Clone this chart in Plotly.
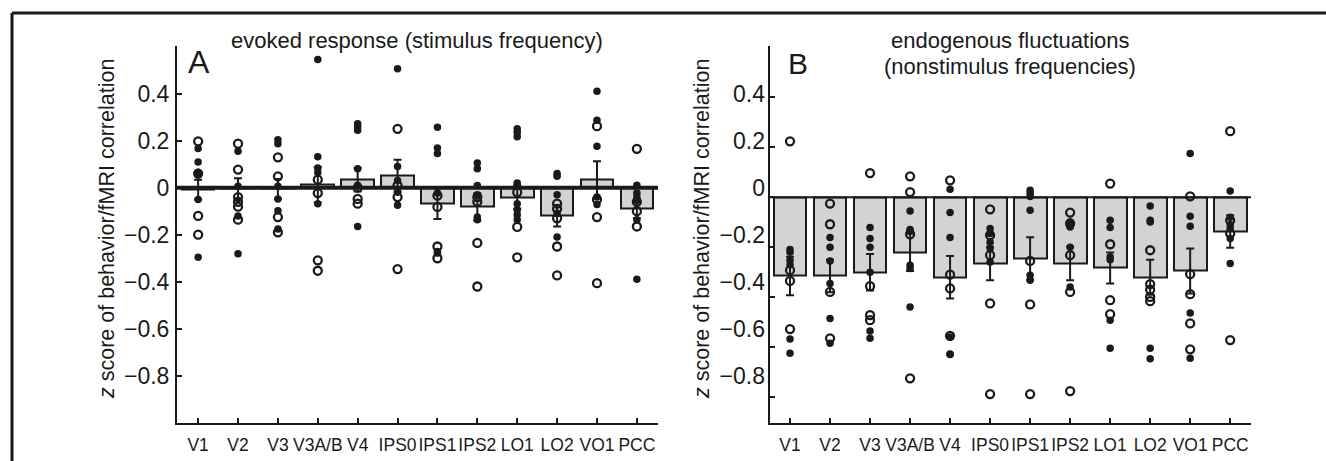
import plotly.graph_objects as go

W, H = 1326, 461

regions = ["V1", "V2", "V3", "V3A/B", "V4", "IPS0", "IPS1", "IPS2", "LO1", "LO2", "VO1", "PCC"]
y_ticks = [-0.8, -0.6, -0.4, -0.2, 0, 0.2, 0.4]
y_ticktext = ["\u22120.8", "\u22120.6", "\u22120.4", "\u22120.2", "0", "0.2", "0.4"]

# panel A: evoked response (stimulus frequency)
evoked_mean = [-0.008, -0.005, -0.005, 0.012, 0.034, 0.051, -0.068, -0.082, -0.04, -0.12, 0.035, -0.09]
evoked_sem = [0.042, 0.045, 0.042, 0.075, 0.05, 0.068, 0.065, 0.058, 0.05, 0.045, 0.077, 0.04]
evoked_filled = [
    [0.166, 0.109, 0.065, 0.055, -0.05, -0.296],
    [0.155, 0.006, -0.12, -0.281],
    [0.204, 0.187, 0.006, -0.048, -0.098, -0.176],
    [0.545, 0.131, 0.084, 0.064, -0.068],
    [0.272, 0.26, 0.244, 0.08, 0.01, -0.165],
    [0.505, 0.09, 0.03, -0.02, -0.075],
    [0.257, 0.169, 0.145, -0.023, -0.271, -0.278],
    [0.105, 0.08, 0.009, -0.03, -0.125, -0.136],
    [0.25, 0.235, 0.216, 0.02, -0.068, -0.094, -0.115, -0.136],
    [0.06, 0.048, -0.03, -0.11, -0.21],
    [0.41, 0.286, 0.176, -0.04, -0.072],
    [0.01, -0.023, -0.04, -0.055, -0.136, -0.389],
]
evoked_open = [
    [0.197, 0.06, -0.12, -0.2],
    [0.187, 0.077, -0.04, -0.06, -0.081, -0.136],
    [0.129, 0.048, -0.125, -0.19],
    [0.034, -0.023, -0.309, -0.353],
    [0.0, -0.048, -0.068],
    [0.25, 0.01, -0.04, -0.346],
    [-0.034, -0.082, -0.25, -0.3],
    [-0.04, -0.06, -0.235, -0.42],
    [-0.02, -0.167, -0.296],
    [-0.068, -0.09, -0.13, -0.25, -0.373],
    [0.261, -0.05, -0.125, -0.406],
    [0.165, -0.06, -0.1, -0.165],
]

# panel B: endogenous fluctuations (nonstimulus frequencies)
endo_mean = [-0.315, -0.315, -0.3, -0.22, -0.32, -0.265, -0.245, -0.265, -0.283, -0.32, -0.295, -0.137]
endo_sem = [0.077, 0.065, 0.073, 0.075, 0.085, 0.067, 0.085, 0.067, 0.062, 0.07, 0.09, 0.065]
endo_filled = [
    [-0.209, -0.22, -0.252, -0.27, -0.568, -0.625],
    [-0.161, -0.2, -0.255, -0.345, -0.485, -0.585],
    [-0.121, -0.165, -0.2, -0.3, -0.536, -0.565],
    [-0.055, -0.129, -0.135, -0.272, -0.285, -0.439],
    [0.032, -0.061, -0.161, -0.56, -0.628, -0.63],
    [-0.125, -0.145, -0.18, -0.205, -0.259],
    [0.028, 0.015, 0.003, -0.052, -0.312, -0.332],
    [-0.099, -0.116, -0.119, -0.2, -0.359],
    [-0.092, -0.121, -0.239, -0.25, -0.492, -0.605],
    [-0.035, -0.092, -0.099, -0.605, -0.647],
    [0.175, -0.076, -0.116, -0.463, -0.645],
    [0.025, -0.08, -0.11, -0.125, -0.165, -0.265],
]
endo_open = [
    [0.224, -0.292, -0.335, -0.528],
    [-0.025, -0.108, -0.379, -0.565],
    [0.097, -0.356, -0.472, -0.492],
    [0.084, 0.021, -0.148, -0.725],
    [0.068, -0.31, -0.365, -0.555],
    [-0.048, -0.152, -0.232, -0.425, -0.788],
    [-0.255, -0.429, -0.788],
    [-0.061, -0.105, -0.232, -0.379, -0.776],
    [0.055, -0.188, -0.412, -0.468],
    [-0.212, -0.348, -0.37, -0.399, -0.416],
    [0.004, -0.308, -0.388, -0.505, -0.609],
    [0.265, -0.092, -0.145, -0.572],
]

BAR_GRAY = "#d3d3d3"
INK = "#1a1a1a"
FONT = "Arial, Liberation Sans, sans-serif"


def flatten(groups):
    xs, ys = [], []
    for i, vals in enumerate(groups):
        for v in vals:
            xs.append(i)
            ys.append(v)
    return xs, ys


fig = go.Figure()

panels = [
    ("x", "y", evoked_mean, evoked_sem, evoked_filled, evoked_open),
    ("x2", "y2", endo_mean, endo_sem, endo_filled, endo_open),
]
for xa, ya, mean, sem, filled, hollow in panels:
    fig.add_trace(go.Bar(
        x=list(range(len(regions))), y=mean, width=0.82,
        marker=dict(color=BAR_GRAY, line=dict(color=INK, width=2)),
        error_y=dict(type="data", array=sem, color=INK, thickness=2, width=4),
        xaxis=xa, yaxis=ya, showlegend=False,
    ))
    ox, oy = flatten(hollow)
    fig.add_trace(go.Scatter(
        x=ox, y=oy, mode="markers", xaxis=xa, yaxis=ya, showlegend=False,
        marker=dict(symbol="circle-open", size=8, color=INK, line=dict(width=2.3, color=INK)),
    ))
    fx, fy = flatten(filled)
    fig.add_trace(go.Scatter(
        x=fx, y=fy, mode="markers", xaxis=xa, yaxis=ya, showlegend=False,
        marker=dict(symbol="circle", size=7.5, color=INK),
    ))

# dummy trace so the label-only axis of panel B gets drawn
fig.add_trace(go.Scatter(x=[None], y=[None], xaxis="x2", yaxis="y3", showlegend=False, hoverinfo="skip"))

ydom = [(H - 423) / H, (H - 45.5) / H]
xcommon = dict(
    tickmode="array", tickvals=list(range(len(regions))), ticktext=regions,
    ticks="inside", ticklen=5, tickwidth=1.5, tickcolor=INK, tickangle=0,
    showline=True, linecolor=INK, linewidth=2, showgrid=False, zeroline=False,
    tickfont=dict(size=17.5, color=INK, family=FONT), ticklabelstandoff=5,
    automargin=False,
)
ycommon = dict(
    tickmode="array", tickvals=y_ticks, ticktext=y_ticktext,
    ticks="inside", ticklen=5, tickwidth=1.5, tickcolor=INK,
    showline=True, linecolor=INK, linewidth=2, showgrid=False, zeroline=False,
    tickfont=dict(size=23, color=INK, family=FONT), ticklabelstandoff=1,
    domain=ydom, automargin=False,
)

fig.update_layout(
    width=W, height=H,
    margin=dict(l=0, r=0, t=0, b=0),
    paper_bgcolor="white", plot_bgcolor="white",
    font=dict(family=FONT, color=INK),
    bargap=0,
    xaxis=dict(xcommon, domain=[177 / W, 658 / W], range=[-0.53, 11.53], anchor="y"),
    yaxis=dict(ycommon, range=[-1.0, 0.604], anchor="x"),
    xaxis2=dict(xcommon, domain=[770 / W, 1251 / W], range=[-0.5, 11.52], anchor="y2"),
    yaxis2=dict(ycommon, range=[-0.904, 0.608], anchor="x2", showticklabels=False),
    yaxis3=dict(
        tickmode="array", tickvals=y_ticks, ticktext=y_ticktext,
        overlaying="y2", anchor="x2", side="left", range=[-1.0, 0.608],
        ticks="", showline=False, showgrid=False, zeroline=False, automargin=False,
        tickfont=dict(size=23, color=INK, family=FONT), ticklabelstandoff=4,
    ),
)

# zero lines
fig.add_shape(type="line", xref="x domain", yref="y", x0=0, x1=1, y0=0, y1=0,
              line=dict(color=INK, width=4), layer="above")
fig.add_shape(type="line", xref="x2 domain", yref="y2", x0=0, x1=1, y0=0, y1=0,
              line=dict(color=INK, width=2), layer="above")

# figure frame (top and left edge)
fig.add_shape(type="line", xref="paper", yref="paper", x0=12 / W, x1=1, y0=1 - 13 / H, y1=1 - 13 / H,
              line=dict(color=INK, width=3))
fig.add_shape(type="line", xref="paper", yref="paper", x0=12 / W, x1=12 / W, y0=0, y1=1 - 13 / H,
              line=dict(color=INK, width=3))


def note(text, px, py, size, xanchor="center", angle=0):
    fig.add_annotation(text=text, x=px / W, y=1 - py / H, xref="paper", yref="paper",
                       xanchor=xanchor, yanchor="middle", showarrow=False, textangle=angle,
                       font=dict(size=size, color=INK, family=FONT))


note("evoked response (stimulus frequency)", 417, 40, 22)
note("endogenous fluctuations", 1010, 40, 22)
note("(nonstimulus frequencies)", 1010, 67, 22)
note("A", 186, 62, 32, xanchor="left")
note("B", 786, 63, 30, xanchor="left")
note("<i>z</i> score of behavior/fMRI correlation", 107, 229, 21.5, angle=-90)
note("<i>z</i> score of behavior/fMRI correlation", 702, 229, 21.5, angle=-90)

# page body has a default margin; drop it so the figure sits at the window origin
fig.write_html("out.html", config={"displayModeBar": False},
               post_script="document.body.style.margin='0px';")
